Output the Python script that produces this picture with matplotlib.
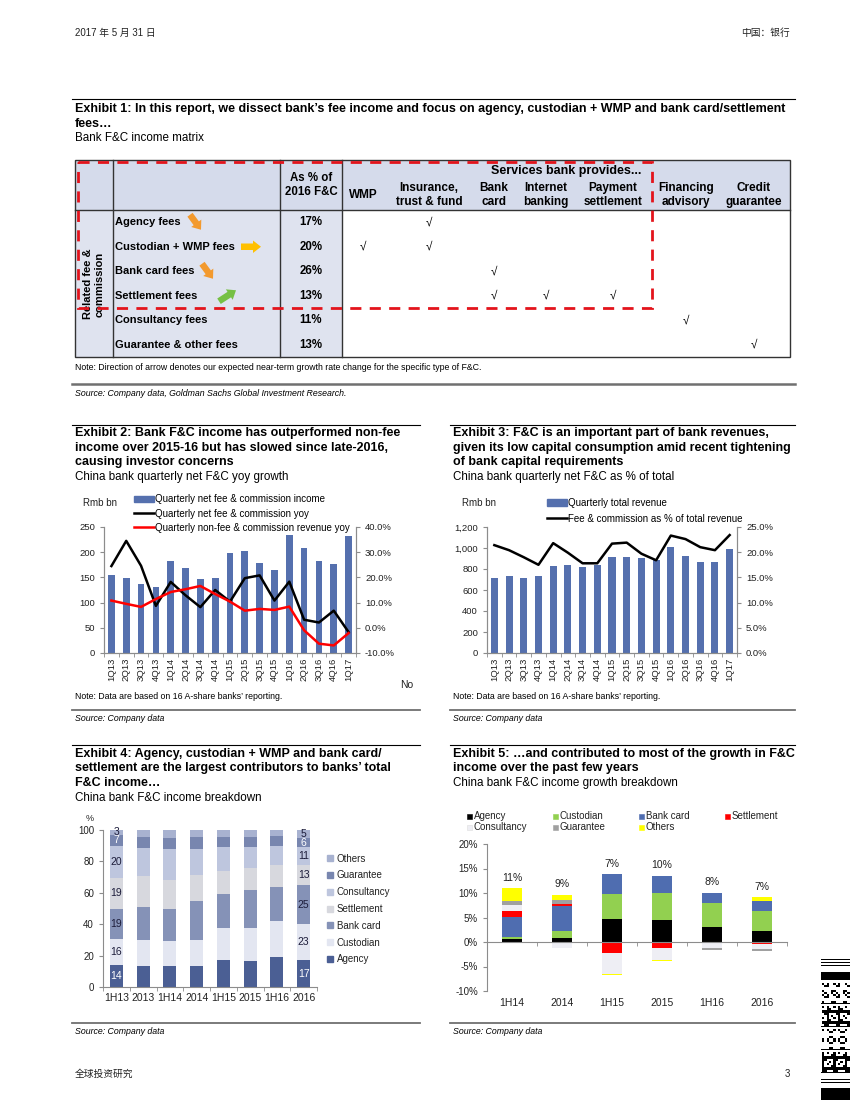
import matplotlib
matplotlib.use('Agg')
import matplotlib.pyplot as plt
import numpy as np
from matplotlib.patches import Rectangle, FancyArrow, Patch
from matplotlib.lines import Line2D
from matplotlib.ticker import FuncFormatter

plt.rcParams['font.family'] = ['Liberation Sans', 'Noto Sans CJK SC', 'DejaVu Sans']

# ---------------- data ----------------
# Exhibit 1 - F&C income matrix
fee_rows = ['Agency fees', 'Custodian + WMP fees', 'Bank card fees', 'Settlement fees',
            'Consultancy fees', 'Guarantee & other fees']
share_2016 = [17, 20, 26, 13, 11, 13]
services = ['WMP', 'Insurance,\ntrust & fund', 'Bank\ncard', 'Internet\nbanking',
            'Payment\nsettlement', 'Financing\nadvisory', 'Credit\nguarantee']
provides = [[0, 1, 0, 0, 0, 0, 0],
            [1, 1, 0, 0, 0, 0, 0],
            [0, 0, 1, 0, 0, 0, 0],
            [0, 0, 1, 1, 1, 0, 0],
            [0, 0, 0, 0, 0, 1, 0],
            [0, 0, 0, 0, 0, 0, 1]]
outlook = ['down', 'right', 'down', 'up', None, None]

# Exhibit 2 / 3 - quarterly
quarters = ['1Q13', '2Q13', '3Q13', '4Q13', '1Q14', '2Q14', '3Q14', '4Q14', '1Q15',
            '2Q15', '3Q15', '4Q15', '1Q16', '2Q16', '3Q16', '4Q16', '1Q17']
fc_income = [154, 149, 136, 130, 182, 168, 147, 149, 199, 202, 178, 165, 235, 209, 182, 176, 232]
fc_yoy = [24.5, 34.5, 24.6, 8.7, 18.2, 12.9, 8.2, 15.0, 10.4, 19.7, 20.8, 10.8, 18.3, 3.2, 2.1, 6.8, -1.7]
nonfee_yoy = [10.8, 9.5, 8.3, 11.4, 14.2, 15.3, 16.6, 13.4, 10.4, 6.8, 7.5, 7.1, 8.4, -1.0, -6.3, -7.0, -2.1]
total_rev = [719, 731, 716, 737, 828, 837, 822, 840, 912, 912, 903, 890, 1012, 922, 866, 862, 994]
fc_share = [21.4, 20.4, 19.0, 17.5, 21.8, 19.9, 17.8, 17.8, 21.7, 21.9, 19.7, 18.4, 23.3, 22.6, 21.0, 20.4, 23.4]

# Exhibit 4 - F&C income breakdown (%)
periods4 = ['1H13', '2013', '1H14', '2014', '1H15', '2015', '1H16', '2016']
agency_mix = [14, 13.3, 13.1, 13.3, 17.3, 16.5, 18.8, 17]
custodian_mix = [16, 16.7, 16.0, 16.7, 20.0, 21.0, 23.4, 23]
bankcard_mix = [19, 21.2, 20.8, 24.6, 22.2, 24.0, 21.8, 25]
settlement_mix = [19, 19.2, 18.4, 16.9, 14.4, 14.5, 13.5, 13]
consultancy_mix = [20, 18.3, 19.5, 16.5, 15.0, 13.1, 12.6, 11]
guarantee_mix = [7, 6.8, 7.1, 7.3, 6.6, 6.4, 6.0, 6]
others_mix = [3, 4.5, 5.1, 4.7, 4.5, 4.5, 3.9, 5]

# Exhibit 5 - F&C income growth breakdown (ppt)
periods5 = ['1H14', '2014', '1H15', '2015', '1H16', '2016']
agency_g = [0.55, 0.75, 4.6, 4.4, 3.0, 2.25]
custodian_g = [0.55, 1.55, 5.2, 5.7, 5.0, 4.15]
bankcard_g = [4.1, 5.05, 4.0, 3.4, 1.9, 1.9]
settlement_g = [1.1, 0.4, -2.2, -1.3, -0.3, -0.4]
consultancy_g = [1.2, -1.15, -4.3, -2.4, -0.85, -0.95]
guarantee_g = [0.9, 0.75, 0.0, 0.0, -0.5, -0.5]
others_g = [2.6, 1.1, -0.2, -0.2, 0.2, 0.8]
total_g = [11, 9, 7, 10, 8, 7]

mix_names = ['Agency', 'Custodian', 'Bank card', 'Settlement', 'Consultancy', 'Guarantee', 'Others']

# ---------------- styles ----------------
BAR_BLUE = '#5570AE'
AX_GREY = '#8C8C8C'
TXT = '#222222'
colors4 = ['#4B5F94', '#E3E6F1', '#8592B7', '#D7D8DE', '#BEC6DE', '#7886AF', '#A8B2D0']
colors5 = ['#000000', '#92D050', '#4F6DB0', '#FF0000', '#EEEEF4', '#A0A0A0', '#FFFF00']

W, H = 850, 1100
fig = plt.figure(figsize=(8.5, 11), dpi=100)
fig.set_facecolor('white')
page = fig.add_axes([0, 0, 1, 1])
page.set_xlim(0, W)
page.set_ylim(H, 0)
page.axis('off')


def box(x0, y0, x1, y1):
    return fig.add_axes([x0 / W, 1 - y1 / H, (x1 - x0) / W, (y1 - y0) / H])


def header(x0, x1, y_rule, lines, ys, sub, ysub, size=9):
    page.plot([x0, x1], [y_rule, y_rule], color='black', lw=0.8)
    for s, y in zip(lines, ys):
        page.text(x0 + 3, y, s, fontsize=size, fontweight='bold', va='baseline', color='black')
    page.text(x0 + 3, ysub, sub, fontsize=8.4, va='baseline', color='black')


def footer(x0, x1, y_rule, ysrc):
    page.plot([x0, x1], [y_rule, y_rule], color='#707070', lw=1.3)
    page.text(x0 + 3, ysrc, 'Source: Company data', fontsize=6.3, style='italic', va='baseline')


def cat_axis(ax, n):
    ax.set_xlim(-0.5, n - 0.5)
    ax.set_xticks(np.arange(-0.5, n, 1), minor=True)
    ax.tick_params(axis='x', which='major', length=0)
    ax.tick_params(axis='x', which='minor', length=3, color=AX_GREY, direction='out')


# ---------------- page header / footer ----------------
page.text(75, 36, '2017 年 5 月 31 日', fontsize=7, va='baseline', color=TXT)
page.text(790, 36, '中国：银行', fontsize=7, va='baseline', ha='right', color=TXT)
page.text(75, 1077, '全球投资研究', fontsize=7, va='baseline', color=TXT)
page.text(790, 1077, '3', fontsize=7, va='baseline', ha='right', color=TXT)

# barcode stamp bottom right
for y0, h in [(959, 1.2), (962, 1.2), (965, 1.2), (972, 8), (1079, 1.3), (1082, 1.3), (1088, 12)]:
    page.add_patch(Rectangle((821, y0), 29, h, color='black', lw=0))
ii, jj = np.indices((9, 12))
for k, yb in enumerate([983, 1006, 1029, 1052]):
    pat = ((ii * (k + 2) + jj * 3 + ii * jj) % 5 < 2)
    for (r, c) in zip(*np.nonzero(pat)):
        page.add_patch(Rectangle((822 + c * 2.3, yb + r * 2.2), 2.3, 2.2, color='black', lw=0))
    page.add_patch(Rectangle((821, yb + 20), 29, 1.2, color='black', lw=0))

# ---------------- Exhibit 1 ----------------
header(72, 795, 99,
       ['Exhibit 1: In this report, we dissect bank’s fee income and focus on agency, custodian + WMP and bank card/settlement',
        'fees…'], [112, 127], 'Bank F&C income matrix', 141, size=9)

t_l, t_r, t_t, h_b, t_b = 75, 790, 160, 210, 357
c1, c2, c3 = 113, 280, 342
row_h = (t_b - h_b) / len(fee_rows)
page.add_patch(Rectangle((t_l, t_t), t_r - t_l, h_b - t_t, facecolor='#D5DBEB', edgecolor='none'))
page.add_patch(Rectangle((t_l, h_b), c3 - t_l, t_b - h_b, facecolor='#DFE3EF', edgecolor='none'))
page.add_patch(Rectangle((t_l, t_t), t_r - t_l, t_b - t_t, fill=False, edgecolor='#333333', lw=1.0))
page.plot([t_l, t_r], [h_b, h_b], color='#333333', lw=1.0)
for cx in (c1, c2, c3):
    page.plot([cx, cx], [t_t, t_b], color='#333333', lw=1.0)

page.text(311, 178, 'As % of', fontsize=8.3, fontweight='bold', ha='center', va='center')
page.text(311, 192, '2016 F&C', fontsize=8.3, fontweight='bold', ha='center', va='center')
page.text(566, 171, 'Services bank provides...', fontsize=9, fontweight='bold', ha='center', va='center')
svc_x = [363, 429, 494, 546, 613, 686, 754]
for sx, name in zip(svc_x, services):
    page.text(sx, 195, name, fontsize=8.5, fontweight='bold', ha='center', va='center', linespacing=1.2)

page.text(94, 284, 'Related fee &\ncommission', rotation=90, fontsize=8, fontweight='bold',
          ha='center', va='center', multialignment='center', linespacing=1.15)

arrow_x = [190, 241, 202, 219]
arrow_col = {'down': '#F39A2E', 'right': '#FFC000', 'up': '#76C044'}
arrow_vec = {'down': (11, 15), 'right': (20, 0), 'up': (17, -11)}
for i, (name, pct, row) in enumerate(zip(fee_rows, share_2016, provides)):
    yc = h_b + row_h * (i + 0.5)
    page.text(115, yc, name, fontsize=8, fontweight='bold', va='center')
    page.text(311, yc, f'{pct}%', fontsize=8.3, fontweight='bold', ha='center', va='center')
    for sx, flag in zip(svc_x, row):
        if flag:
            page.text(sx, yc, '√', fontsize=8.5, ha='center', va='center')
    d = outlook[i]
    if d:
        dx, dy = arrow_vec[d]
        x0 = arrow_x[i]
        y0 = yc - dy / 2
        page.add_patch(FancyArrow(x0, y0, dx, dy, width=6.5, head_width=12.5, head_length=8,
                                  length_includes_head=True, color=arrow_col[d], lw=0))

page.add_patch(Rectangle((78, 161.5), 652 - 78, 308 - 161.5, fill=False, edgecolor='#E3141C',
                         lw=2, linestyle=(0, (4, 3)), zorder=5))
page.text(75, 370, 'Note: Direction of arrow denotes our expected near-term growth rate change for the specific type of F&C.',
          fontsize=6.3, va='baseline')
page.plot([72, 795], [384, 384], color='#707070', lw=1.8)
page.text(75, 396, 'Source: Company data, Goldman Sachs Global Investment Research.', fontsize=6.3,
          style='italic', va='baseline')

# ---------------- Exhibit 2 ----------------
header(72, 420, 425,
       ['Exhibit 2: Bank F&C income has outperformed non-fee',
        'income over 2015-16 but has slowed since late-2016,',
        'causing investor concerns'], [436, 451, 465],
       'China bank quarterly net F&C yoy growth', 480)
xq = np.arange(len(quarters))
ax2 = box(104, 527, 356, 653)
ax2.bar(xq, fc_income, width=0.45, color=BAR_BLUE, zorder=2)
ax2.set_ylim(0, 250)
ax2.set_yticks(range(0, 251, 50))
cat_axis(ax2, len(quarters))
ax2.set_xticks(xq)
ax2.set_xticklabels(quarters, rotation=90, fontsize=6.8, color=TXT)
ax2.tick_params(axis='y', length=3, color=AX_GREY, labelsize=6.8, labelcolor=TXT)
ax2r = ax2.twinx()
ax2r.plot(xq, fc_yoy, color='black', lw=1.8)
ax2r.plot(xq, nonfee_yoy, color='#FF0000', lw=1.8)
ax2r.set_ylim(-10, 40)
ax2r.set_yticks(range(-10, 41, 10))
ax2r.yaxis.set_major_formatter(FuncFormatter(lambda v, p: f'{v:.1f}%'))
ax2r.tick_params(axis='y', length=3, color=AX_GREY, labelsize=6.8, labelcolor=TXT)
for a in (ax2, ax2r):
    a.spines['top'].set_visible(False)
    for s in ('left', 'right', 'bottom'):
        a.spines[s].set_color(AX_GREY)
page.text(83, 506, 'Rmb bn', fontsize=7, va='baseline', color=TXT)
fig.legend([Patch(color=BAR_BLUE), Line2D([], [], color='black', lw=1.8), Line2D([], [], color='#FF0000', lw=1.8)],
           ['Quarterly net fee & commission income', 'Quarterly net fee & commission yoy',
            'Quarterly non-fee & commission revenue yoy'],
           loc='upper left', bbox_to_anchor=(134 / W, 1 - 494.5 / H), frameon=False, fontsize=7,
           handlelength=2.1, handletextpad=0.1, labelspacing=0.42, borderpad=0, borderaxespad=0)
page.text(400, 688, 'No', fontsize=7.5, va='baseline', color=TXT)
page.text(75, 699, 'Note: Data are based on 16 A-share banks’ reporting.', fontsize=6.3, va='baseline')
footer(72, 420, 710, 721)

# ---------------- Exhibit 3 ----------------
header(450, 795, 425,
       ['Exhibit 3: F&C is an important part of bank revenues,',
        'given its low capital consumption amid recent tightening',
        'of bank capital requirements'], [436, 451, 465],
       'China bank quarterly net F&C as % of total', 480)
ax3 = box(487, 527, 737, 653)
ax3.bar(xq, total_rev, width=0.48, color=BAR_BLUE, zorder=2)
ax3.set_ylim(0, 1200)
ax3.set_yticks(range(0, 1201, 200))
ax3.yaxis.set_major_formatter(FuncFormatter(lambda v, p: f'{v:,.0f}'))
cat_axis(ax3, len(quarters))
ax3.set_xticks(xq)
ax3.set_xticklabels(quarters, rotation=90, fontsize=6.8, color=TXT)
ax3.tick_params(axis='y', length=3, color=AX_GREY, labelsize=6.8, labelcolor=TXT)
ax3r = ax3.twinx()
ax3r.plot(xq, fc_share, color='black', lw=1.8)
ax3r.set_ylim(0, 25)
ax3r.set_yticks(np.arange(0, 25.1, 5))
ax3r.yaxis.set_major_formatter(FuncFormatter(lambda v, p: f'{v:.1f}%'))
ax3r.tick_params(axis='y', length=3, color=AX_GREY, labelsize=6.8, labelcolor=TXT)
for a in (ax3, ax3r):
    a.spines['top'].set_visible(False)
    for s in ('left', 'right', 'bottom'):
        a.spines[s].set_color(AX_GREY)
page.text(462, 506, 'Rmb bn', fontsize=7, va='baseline', color=TXT)
fig.legend([Patch(color=BAR_BLUE), Line2D([], [], color='black', lw=1.8)],
           ['Quarterly total revenue', 'Fee & commission as % of total revenue'],
           loc='upper left', bbox_to_anchor=(547 / W, 1 - 497.5 / H), frameon=False, fontsize=7,
           handlelength=2.1, handletextpad=0.1, labelspacing=0.65, borderpad=0, borderaxespad=0)
page.text(453, 699, 'Note: Data are based on 16 A-share banks’ reporting.', fontsize=6.3, va='baseline')
footer(450, 795, 710, 721)

# ---------------- Exhibit 4 ----------------
header(72, 420, 745,
       ['Exhibit 4: Agency, custodian + WMP and bank card/',
        'settlement are the largest contributors to banks’ total',
        'F&C income…'], [757, 771.5, 786],
       'China bank F&C income breakdown', 801)
x4 = np.arange(len(periods4))
mix = np.array([agency_mix, custodian_mix, bankcard_mix, settlement_mix,
                consultancy_mix, guarantee_mix, others_mix], dtype=float)
mix_pct = mix / mix.sum(axis=0) * 100
ax4 = box(103, 830, 317, 987)
bottom = np.zeros(len(periods4))
handles4 = []
for k, (name, vals, col) in enumerate(zip(mix_names, mix_pct, colors4)):
    ax4.bar(x4, vals, width=0.48, bottom=bottom, color=col, zorder=2)
    for idx in (0, len(periods4) - 1):
        lc = 'white' if name in ('Agency', 'Guarantee') else '#1C1C3A'
        ax4.text(idx, bottom[idx] + vals[idx] / 2, f'{mix[k, idx]:.0f}', ha='center', va='center',
                 fontsize=7.5, color=lc, zorder=3)
    bottom += vals
    handles4.append(Line2D([], [], marker='s', ls='none', markersize=4.5, color=col))
ax4.set_ylim(0, 100)
ax4.set_yticks(range(0, 101, 20))
cat_axis(ax4, len(periods4))
ax4.set_xticks(x4)
ax4.set_xticklabels(periods4, fontsize=7.5, color=TXT)
ax4.tick_params(axis='y', length=3, color=AX_GREY, labelsize=7, labelcolor=TXT)
ax4.tick_params(axis='x', which='major', pad=4)
for s in ('top', 'right'):
    ax4.spines[s].set_visible(False)
for s in ('left', 'bottom'):
    ax4.spines[s].set_color(AX_GREY)
page.text(86, 821, '%', fontsize=6.5, va='baseline', color=TXT)
fig.legend(handles4[::-1], mix_names[::-1], loc='upper left', bbox_to_anchor=(326 / W, 1 - 853.5 / H),
           frameon=False, fontsize=7, handlelength=0.8, handletextpad=0.3, labelspacing=0.7,
           borderpad=0, borderaxespad=0, labelcolor=TXT)
footer(72, 420, 1023, 1034)

# ---------------- Exhibit 5 ----------------
header(450, 795, 745,
       ['Exhibit 5: …and contributed to most of the growth in F&C',
        'income over the past few years'], [757, 771.5],
       'China bank F&C income growth breakdown', 786)
x5 = np.arange(len(periods5))
growth = np.array([agency_g, custodian_g, bankcard_g, settlement_g,
                   consultancy_g, guarantee_g, others_g], dtype=float)
ax5 = box(487, 844, 787, 991)
ax5.spines['bottom'].set_position(('data', 0))
pos_b = np.zeros(len(periods5))
neg_b = np.zeros(len(periods5))
for vals, col in zip(growth, colors5):
    b = np.where(vals >= 0, pos_b, neg_b)
    ax5.bar(x5, vals, width=0.4, bottom=b, color=col, zorder=2)
    pos_b += np.clip(vals, 0, None)
    neg_b += np.clip(vals, None, 0)
for i, t in enumerate(total_g):
    ax5.annotate(f'{t}%', (i, pos_b[i]), xytext=(0, 4), textcoords='offset points',
                 ha='center', va='bottom', fontsize=7.5, color=TXT)
ax5.set_ylim(-10, 20)
ax5.set_yticks(range(-10, 21, 5))
ax5.yaxis.set_major_formatter(FuncFormatter(lambda v, p: f'{v:.0f}%'))
cat_axis(ax5, len(periods5))
ax5.set_xticks(x5)
ax5.set_xticklabels(periods5, fontsize=7.5, color=TXT)
ax5.tick_params(axis='x', which='major', pad=40)
ax5.tick_params(axis='y', length=3, color=AX_GREY, labelsize=7, labelcolor=TXT)
for s in ('top', 'right'):
    ax5.spines[s].set_visible(False)
for s in ('left', 'bottom'):
    ax5.spines[s].set_color(AX_GREY)
for k, (name, col) in enumerate(zip(mix_names, colors5)):
    row, c = divmod(k, 4)
    lx, ly = 470 + 86 * c, 816 + 11 * row
    page.add_patch(Rectangle((lx - 2.5, ly - 2.5), 5, 5, facecolor=col,
                             edgecolor='#DDDDDD' if name == 'Consultancy' else col, lw=0.4))
    page.text(lx + 4, ly, name, fontsize=7, va='center', color=TXT)
footer(450, 795, 1023, 1034)

fig.savefig('out.png', dpi=100, facecolor='white')
